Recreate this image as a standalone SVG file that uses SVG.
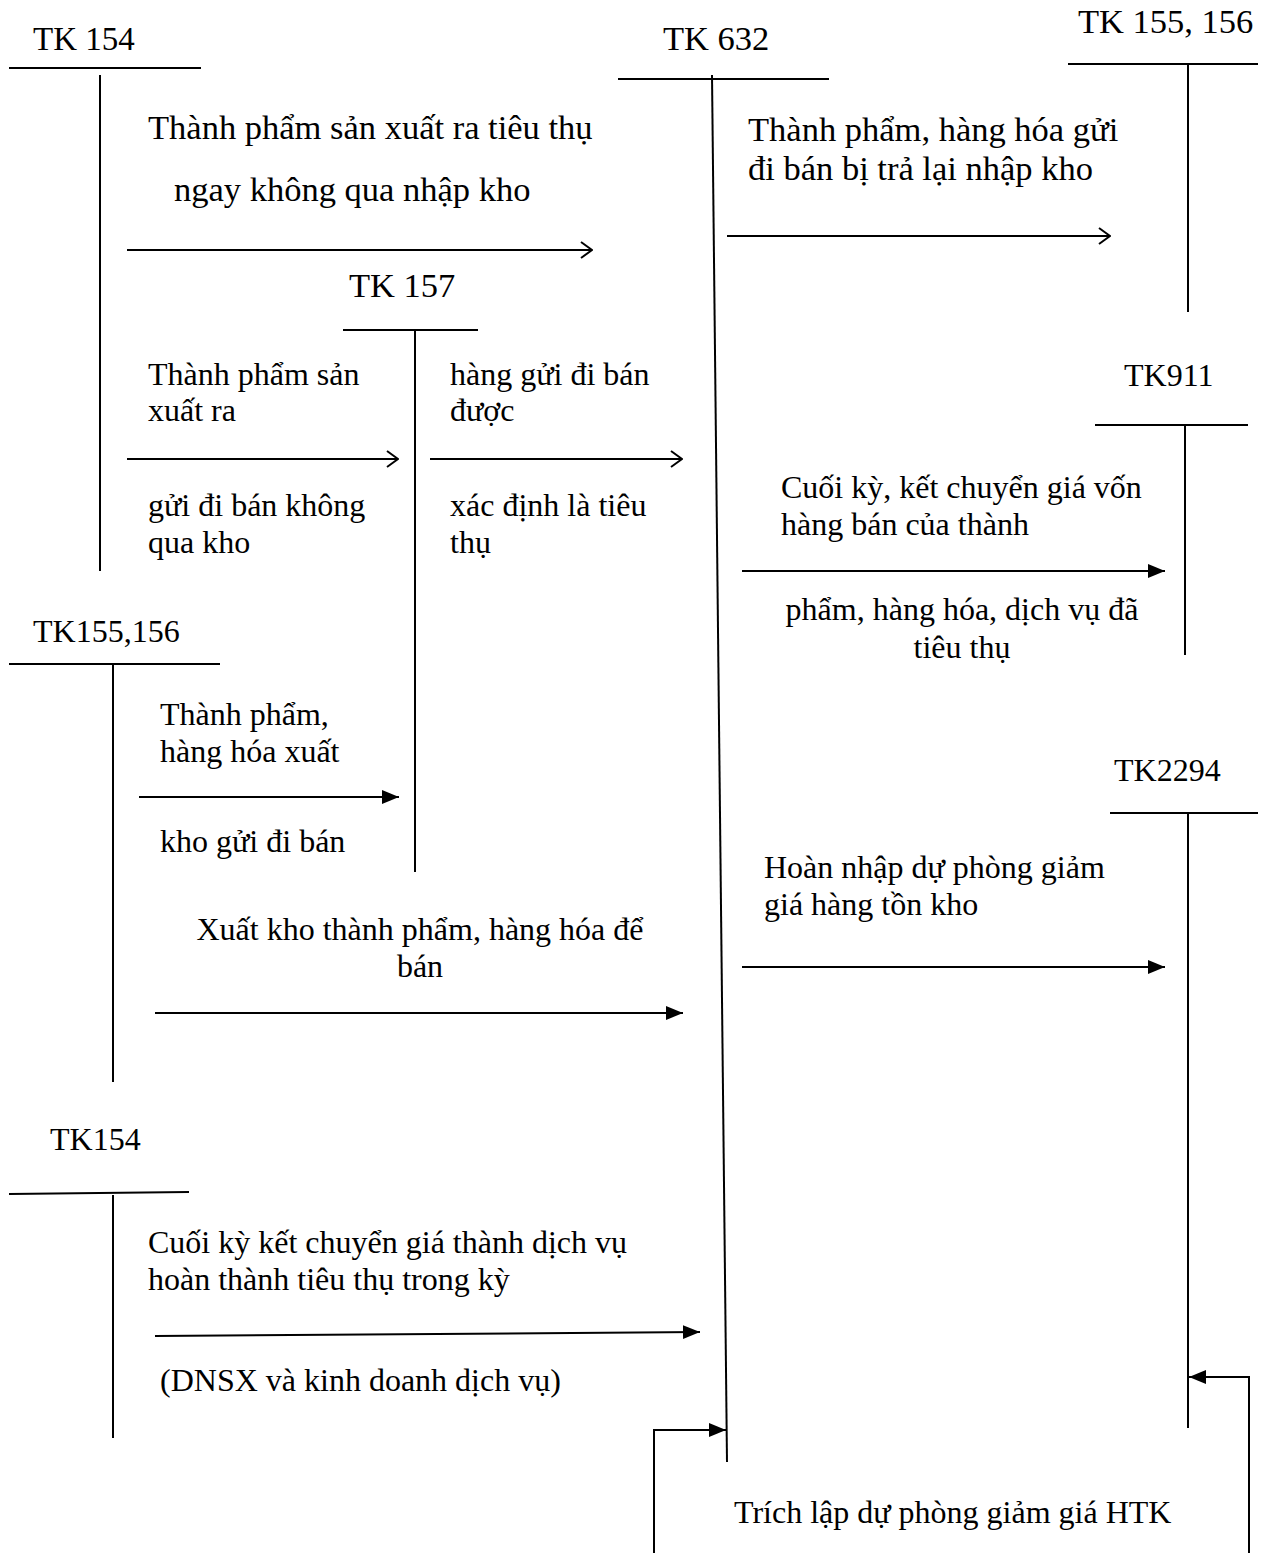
<svg xmlns="http://www.w3.org/2000/svg" width="1263" height="1553" viewBox="0 0 1263 1553">
<style>
text{font-family:"Liberation Serif","Times New Roman",serif;font-size:32px;fill:#000}
.b{font-size:34.5px}
.m{font-size:33px}
.c{text-anchor:middle}
line,path.l{stroke:#000;stroke-width:2;fill:none}
</style>
<defs>
<marker id="open" markerWidth="14" markerHeight="20" refX="13" refY="10" orient="auto" markerUnits="userSpaceOnUse">
<path d="M2,2 L13,10 L2,18" fill="none" stroke="#000" stroke-width="2"/>
</marker>
<marker id="fill" markerWidth="18" markerHeight="16" refX="17" refY="8" orient="auto" markerUnits="userSpaceOnUse">
<path d="M0,1 L17,8 L0,15 Z" fill="#000"/>
</marker>
</defs>
<rect width="1263" height="1553" fill="#fff"/>

<g id="tk154-top">
<text class="m" x="33" y="50">TK 154</text>
<line x1="9" y1="68" x2="201" y2="68"/>
<line x1="100" y1="75" x2="100" y2="571"/>
</g>
<g id="tk632">
<text class="b" x="663" y="50">TK 632</text>
<line x1="618" y1="79" x2="829" y2="79"/>
<line x1="712" y1="75" x2="727" y2="1462"/>
</g>
<g id="tk155-156-top">
<text class="b" x="1078" y="33">TK 155, 156</text>
<line x1="1068" y1="64" x2="1258" y2="64"/>
<line x1="1188" y1="64" x2="1188" y2="312"/>
</g>
<g id="tk157">
<text class="b" x="349" y="297">TK 157</text>
<line x1="343" y1="330" x2="478" y2="330"/>
<line x1="415" y1="330" x2="415" y2="872"/>
</g>
<g id="tk911">
<text x="1124" y="386">TK911</text>
<line x1="1095" y1="425" x2="1248" y2="425"/>
<line x1="1185" y1="425" x2="1185" y2="655"/>
</g>
<g id="tk155-156-left">
<text x="33" y="642">TK155,156</text>
<line x1="9" y1="664" x2="220" y2="664"/>
<line x1="113" y1="664" x2="113" y2="1082"/>
</g>
<g id="tk2294">
<text x="1114" y="781">TK2294</text>
<line x1="1110" y1="813" x2="1258" y2="813"/>
<line x1="1188" y1="813" x2="1188" y2="1428"/>
</g>
<g id="tk154-bottom">
<text x="50" y="1150">TK154</text>
<line x1="9" y1="1194" x2="189" y2="1192"/>
<line x1="113" y1="1195" x2="113" y2="1438"/>
</g>

<g id="labels">
<text class="b" x="148" y="139">Thành phẩm sản xuất ra tiêu thụ</text>
<text class="b" x="174" y="201">ngay không qua nhập kho</text>
<text class="b" x="748" y="141">Thành phẩm, hàng hóa gửi</text>
<text class="b" x="748" y="180">đi bán bị trả lại nhập kho</text>
<text x="148" y="385">Thành phẩm sản</text>
<text x="148" y="421">xuất ra</text>
<text x="148" y="516">gửi đi bán không</text>
<text x="148" y="553">qua kho</text>
<text x="450" y="385">hàng gửi đi bán</text>
<text x="450" y="421">được</text>
<text x="450" y="516">xác định là tiêu</text>
<text x="450" y="553">thụ</text>
<text x="781" y="498">Cuối kỳ, kết chuyển giá vốn</text>
<text x="781" y="535">hàng bán của thành</text>
<text class="c" x="962" y="620">phẩm, hàng hóa, dịch vụ đã</text>
<text class="c" x="962" y="658">tiêu thụ</text>
<text x="160" y="725">Thành phẩm,</text>
<text x="160" y="762">hàng hóa xuất</text>
<text x="160" y="852">kho gửi đi bán</text>
<text class="c" x="420" y="940">Xuất kho thành phẩm, hàng hóa để</text>
<text class="c" x="420" y="977">bán</text>
<text x="764" y="878">Hoàn nhập dự phòng giảm</text>
<text x="764" y="915">giá hàng tồn kho</text>
<text x="148" y="1253">Cuối kỳ kết chuyển giá thành dịch vụ</text>
<text x="148" y="1290">hoàn thành tiêu thụ trong kỳ</text>
<text x="160" y="1391">(DNSX và kinh doanh dịch vụ)</text>
<text x="734" y="1523">Trích lập dự phòng giảm giá HTK</text>
</g>

<g id="connectors">
<line x1="127" y1="250" x2="592" y2="250" marker-end="url(#open)"/>
<line x1="727" y1="236" x2="1110" y2="236" marker-end="url(#open)"/>
<line x1="127" y1="459" x2="398" y2="459" marker-end="url(#open)"/>
<line x1="430" y1="459" x2="682" y2="459" marker-end="url(#open)"/>
<line x1="742" y1="571" x2="1165" y2="571" marker-end="url(#fill)"/>
<line x1="139" y1="797" x2="399" y2="797" marker-end="url(#fill)"/>
<line x1="155" y1="1013" x2="683" y2="1013" marker-end="url(#fill)"/>
<line x1="742" y1="967" x2="1165" y2="967" marker-end="url(#fill)"/>
<line x1="155" y1="1336" x2="700" y2="1332" marker-end="url(#fill)"/>
<path class="l" d="M654,1553 L654,1430 L726,1430" marker-end="url(#fill)"/>
<path class="l" d="M1249,1553 L1249,1377 L1189,1377" marker-end="url(#fill)"/>
</g>
</svg>
